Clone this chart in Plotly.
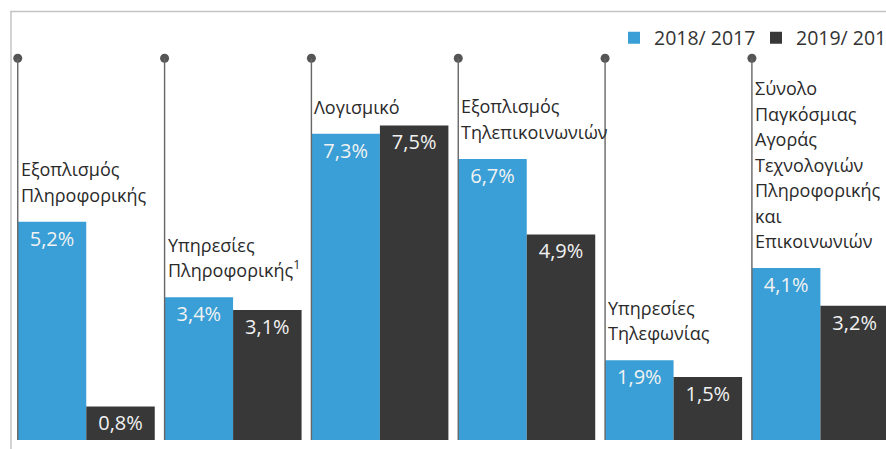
import plotly.graph_objects as go

categories = [
    "Εξοπλισμός<br>Πληροφορικής",
    "Υπηρεσίες<br>Πληροφορικής<sup>1</sup>",
    "Λογισμικό",
    "Εξοπλισμός<br>Τηλεπικοινωνιών",
    "Υπηρεσίες<br>Τηλεφωνίας",
    "Σύνολο<br>Παγκόσμιας<br>Αγοράς<br>Τεχνολογιών<br>Πληροφορικής<br>και<br>Επικοινωνιών",
]
series_names = ["2018/ 2017", "2019/ 2018"]
values_2018 = [5.2, 3.4, 7.3, 6.7, 1.9, 4.1]
values_2019 = [0.8, 3.1, 7.5, 4.9, 1.5, 3.2]

BLUE = "#399fd6"
DARK = "#383838"
FONT = "Open Sans"
W, H = 886, 449
PLOT_H = 440
BARGAP = 0.067
HALF = (1 - BARGAP) / 2
STEM_TOP = 9.1
Y_MAX = 10.489
X_RANGE = [-0.5874, 5.4467]
LINE_H = 25.5
LABEL_GAP = 13

xs = list(range(len(categories)))

fig = go.Figure()
for name, vals, col, lg in [(series_names[0], values_2018, BLUE, "legend"),
                            (series_names[1], values_2019, DARK, "legend2")]:
    fig.add_trace(go.Bar(
        x=xs, y=vals, name=name, marker=dict(color=col, line=dict(width=0)),
        texttemplate="%{y:.1f}%", textposition="inside", insidetextanchor="end",
        textangle=0, constraintext="none",
        textfont=dict(family=FONT, size=20, color="#f2f2f2"),
        legend=lg, hoverinfo="skip",
    ))

# stems with dots at left edge of each group
stem_x = [x - HALF for x in xs]
for sx in stem_x:
    fig.add_shape(type="line", xref="x", yref="y", x0=sx, x1=sx, y0=0, y1=STEM_TOP,
                  line=dict(color="#666666", width=1.4), layer="above")
fig.add_trace(go.Scatter(x=stem_x, y=[STEM_TOP] * len(xs), mode="markers",
                         marker=dict(color="#555555", size=9), showlegend=False,
                         hoverinfo="skip"))

# category labels, one annotation per line for the reference's line spacing
for sx, cat, v in zip(stem_x, categories, values_2018):
    lines = cat.split("<br>")
    n = len(lines)
    for k, line in enumerate(lines):
        fig.add_annotation(x=sx, y=v, xref="x", yref="y", text=line, showarrow=False,
                           xanchor="left", yanchor="bottom", align="left",
                           xshift=1, yshift=LABEL_GAP + (n - 1 - k) * LINE_H,
                           font=dict(family=FONT, size=18, color="#2a2a2a"))

# frame lines
fig.add_shape(type="line", xref="paper", yref="paper", x0=10 / W, x1=1,
              y0=(PLOT_H - 11.5) / PLOT_H, y1=(PLOT_H - 11.5) / PLOT_H,
              line=dict(color="#c4c4c4", width=1.5))
fig.add_shape(type="line", xref="paper", yref="paper", x0=11 / W, x1=11 / W,
              y0=(PLOT_H - 11) / PLOT_H, y1=-10 / PLOT_H,
              line=dict(color="#c4c4c4", width=1.5))

leg_common = dict(orientation="h", xanchor="left", yanchor="middle",
                  y=(PLOT_H - 38) / PLOT_H,
                  font=dict(family=FONT, size=19.5, color="#333333"),
                  bgcolor="rgba(0,0,0,0)", itemclick=False, itemdoubleclick=False)

fig.update_layout(
    width=W, height=H,
    margin=dict(l=0, r=0, t=0, b=H - PLOT_H, autoexpand=False),
    plot_bgcolor="white", paper_bgcolor="white",
    barmode="group", bargap=BARGAP, bargroupgap=0,
    separators=",.",
    xaxis=dict(range=X_RANGE, visible=False, fixedrange=True),
    yaxis=dict(range=[0, Y_MAX], visible=False, fixedrange=True),
    legend=dict(x=614 / W, **leg_common),
    legend2=dict(x=756 / W, **leg_common),
    showlegend=True,
)

# place the figure flush with the window's corner (remove the default page margin)
fig.write_html("out.html", config={"displayModeBar": False},
               post_script="document.body.style.margin='0';document.body.style.overflow='hidden';")
